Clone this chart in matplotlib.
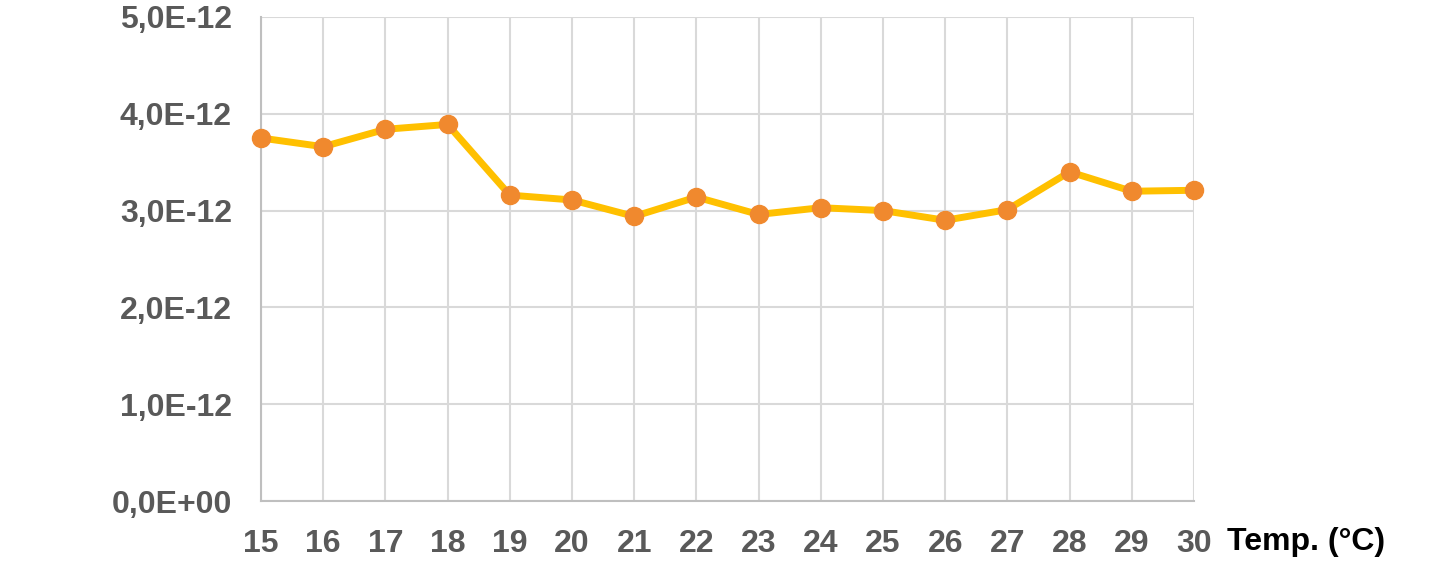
import matplotlib.pyplot as plt
from matplotlib.ticker import FuncFormatter, MultipleLocator

plt.rcParams['font.family'] = ['Liberation Sans', 'DejaVu Sans']

# data
temps = [15, 16, 17, 18, 19, 20, 21, 22, 23, 24, 25, 26, 27, 28, 29, 30]
values = [3.75e-12, 3.66e-12, 3.84e-12, 3.89e-12, 3.16e-12, 3.11e-12, 2.94e-12,
          3.14e-12, 2.96e-12, 3.03e-12, 3.00e-12, 2.90e-12, 3.01e-12, 3.40e-12,
          3.20e-12, 3.21e-12]

fig = plt.figure(figsize=(14.3, 5.85), dpi=100)
ax = fig.add_axes([261 / 1430, 1 - 501 / 585, (1194 - 261) / 1430, (501 - 17) / 585])

ax.plot(temps, values, color="#FFC000", linewidth=5, zorder=3, clip_on=False)
ax.plot(temps, values, linestyle="none", marker="o", markersize=13,
        color="#F0892E", zorder=4, clip_on=False)

ax.set_xlim(15, 30)
ax.set_ylim(0, 5e-12)
ax.xaxis.set_major_locator(MultipleLocator(1))
ax.yaxis.set_major_locator(MultipleLocator(1e-12))
ax.yaxis.set_major_formatter(FuncFormatter(lambda v, p: f"{v:.1E}".replace(".", ",")))
ax.yaxis.get_offset_text().set_visible(False)

ax.grid(True, color="#D9D9D9", linewidth=1.5, zorder=0)
for s in ["top", "right"]:
    ax.spines[s].set_visible(False)
for s in ["left", "bottom"]:
    ax.spines[s].set_color("#BFBFBF")
    ax.spines[s].set_linewidth(1.5)

ax.tick_params(axis="both", length=0, labelsize=23, labelcolor="#595959")
ax.tick_params(axis="x", pad=20)
ax.tick_params(axis="y", pad=21)
for lab in ax.get_xticklabels() + ax.get_yticklabels():
    lab.set_fontweight("bold")

fig.text(1227 / 1430, 1 - 542 / 585, "Temp. (°C)", ha="left", va="center",
         fontsize=23, fontweight="bold", color="black")

fig.savefig("out.png", dpi=100)
